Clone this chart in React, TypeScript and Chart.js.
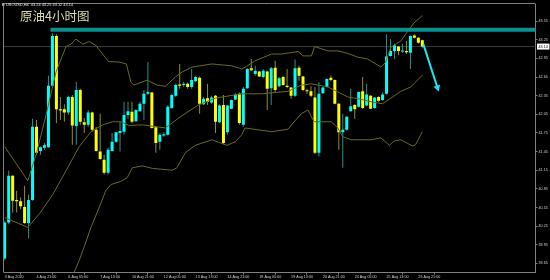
import { useEffect, useRef } from "react";
import { Chart, registerables } from "chart.js";

Chart.register(...registerables);

// ---- Data (H4 candles) ----
const opens = [
  39.73, 40.31, 41.06, 40.67, 40.65, 40.56, 40.30, 40.67, 41.85, 41.46,
  41.51, 41.52, 42.51, 43.31, 42.13, 42.13, 42.08, 42.33, 41.86, 42.44,
  41.92, 41.88, 42.08, 41.80, 41.45, 41.32, 41.11, 41.46, 41.61, 41.75,
  41.77, 42.04, 42.09, 41.94, 42.10, 42.22, 42.38, 42.40, 41.84, 41.61,
  41.71, 41.72, 42.15, 42.35, 42.53, 42.52, 42.54, 42.49, 42.58, 42.64,
  42.21, 42.31, 42.24, 42.35, 41.92, 42.20, 41.76, 42.14, 42.29, 42.38,
  41.88, 42.47, 42.79, 42.70, 42.74, 42.65, 42.74, 42.47, 42.80, 42.50,
  42.65, 42.51, 42.48, 42.35, 42.80, 42.66, 42.43, 42.42, 42.32, 41.43,
  42.39, 42.49, 42.64, 42.60, 42.22, 41.76, 41.80, 42.10, 42.20, 42.17,
  42.42, 42.19, 42.35, 42.15, 42.33, 42.28, 42.38, 42.99, 43.07, 43.14,
  43.06, 43.07, 43.04, 43.32, 43.28, 43.24,
];
const highs = [
  40.33, 41.14, 41.07, 40.82, 40.71, 40.90, 40.76, 41.98, 41.96, 41.53,
  41.59, 42.67, 43.36, 43.34, 42.33, 42.21, 42.35, 42.36, 42.57, 42.46,
  41.99, 42.12, 42.09, 41.85, 42.06, 41.40, 41.51, 41.75, 41.77, 41.93,
  42.25, 42.25, 42.25, 42.13, 42.25, 42.44, 42.89, 42.41, 41.85, 41.75,
  41.76, 42.20, 42.38, 42.54, 42.86, 42.57, 42.56, 42.78, 42.67, 42.66,
  42.33, 42.54, 42.35, 42.36, 42.21, 42.36, 42.20, 42.29, 42.39, 42.40,
  42.49, 42.79, 42.94, 42.83, 42.75, 42.78, 42.75, 42.81, 42.91, 42.65,
  42.67, 42.78, 42.49, 42.93, 42.83, 42.67, 42.46, 42.50, 42.49, 42.57,
  42.49, 42.63, 42.67, 42.61, 42.23, 42.06, 42.02, 42.46, 42.21, 42.42,
  42.65, 42.54, 42.36, 42.33, 42.34, 42.40, 43.34, 43.26, 43.19, 43.15,
  43.18, 43.23, 43.32, 43.34, 43.29, 43.25,
];
const lows = [
  39.70, 40.28, 40.47, 40.47, 40.52, 40.29, 40.05, 40.66, 41.40, 41.40,
  41.48, 41.51, 42.49, 41.91, 41.96, 41.93, 42.04, 41.56, 41.56, 41.88,
  41.75, 41.85, 41.77, 41.45, 41.32, 41.08, 41.08, 41.45, 41.59, 41.45,
  41.72, 41.98, 41.90, 41.93, 42.09, 41.96, 42.36, 41.82, 41.43, 41.48,
  41.69, 41.71, 42.14, 42.33, 42.46, 42.49, 42.46, 42.46, 42.57, 42.06,
  42.20, 42.20, 42.22, 41.75, 41.91, 41.57, 41.72, 42.13, 42.28, 41.88,
  41.85, 42.46, 42.75, 42.67, 42.65, 42.63, 42.12, 42.20, 42.41, 42.49,
  42.51, 42.47, 42.30, 42.33, 42.59, 42.42, 42.38, 42.33, 41.41, 41.37,
  42.38, 42.48, 42.58, 42.21, 41.48, 41.19, 41.79, 42.09, 41.98, 42.16,
  42.13, 42.18, 42.13, 42.14, 42.25, 42.27, 42.37, 42.98, 42.94, 43.00,
  43.04, 43.02, 42.78, 43.27, 43.19, 43.12,
];
const closes = [
  40.31, 41.06, 40.66, 40.65, 40.57, 40.30, 40.67, 41.85, 41.43, 41.52,
  41.55, 42.51, 43.31, 42.13, 42.11, 42.08, 42.33, 41.87, 42.44, 41.93,
  41.88, 42.08, 41.80, 41.46, 41.33, 41.11, 41.48, 41.61, 41.76, 41.78,
  42.04, 42.10, 41.93, 42.12, 42.22, 42.38, 42.41, 41.83, 41.59, 41.72,
  41.73, 42.17, 42.36, 42.52, 42.51, 42.54, 42.49, 42.60, 42.65, 42.22,
  42.30, 42.25, 42.32, 41.93, 42.19, 41.59, 42.19, 42.28, 42.37, 41.91,
  42.46, 42.78, 42.76, 42.75, 42.66, 42.75, 42.46, 42.79, 42.44, 42.63,
  42.52, 42.49, 42.35, 42.79, 42.67, 42.44, 42.42, 42.35, 41.43, 42.38,
  42.48, 42.62, 42.60, 42.22, 41.76, 41.80, 42.01, 42.18, 42.13, 42.41,
  42.15, 42.37, 42.14, 42.32, 42.27, 42.37, 42.98, 43.07, 43.16, 43.07,
  43.065, 43.05, 43.31, 43.28, 43.20, 43.14,
];

// Bollinger band lines: [bar index, price]
const upperBand: [number, number][] = [
  [0, 41.53], [5.8, 40.98], [7.9, 41.4], [10.4, 42.04], [12.9, 42.73], [15.4, 43.14],
  [16.7, 43.18], [17.9, 43.26], [19.6, 43.18], [21.3, 43.22], [22.9, 43.16], [24.6, 43.02],
  [26.1, 42.9], [28.8, 42.89], [30.6, 42.86], [31.7, 42.57], [32.5, 42.52], [35.8, 42.6],
  [38.3, 42.52], [40.4, 42.5], [42.9, 42.65], [44.6, 42.73], [47.1, 42.81], [52.1, 42.86],
  [57.1, 42.83], [59.6, 42.78], [60.8, 42.82], [62.9, 42.91], [67.1, 43.02], [69.6, 43.02],
  [73.75, 43.06], [75, 42.99], [77.1, 42.99], [77.9, 43.14], [81.25, 43.07], [83.75, 43.07],
  [86.25, 43.03], [88.75, 42.97], [91.25, 42.94], [93.3, 42.86], [94.6, 42.81], [95.8, 42.89],
  [97.1, 43.13], [99.6, 43.23], [100.8, 43.34], [102.9, 43.52], [105, 43.64],
];
const middleBand: [number, number][] = [
  [0, 40.39], [5.8, 40.23], [8.75, 40.45], [12.1, 40.76], [15.4, 41.14], [18.75, 41.53],
  [21.7, 41.77], [24.6, 41.88], [27.1, 41.93], [29.2, 41.93], [31.25, 41.87], [34.6, 41.88],
  [40.4, 41.83], [44.6, 42.03], [48.75, 42.2], [52.9, 42.31], [59.6, 42.38], [64.6, 42.38],
  [71.25, 42.42], [74.6, 42.52], [77.1, 42.54], [81.25, 42.49], [83.75, 42.41], [86.25, 42.33],
  [89.6, 42.29], [92.9, 42.24], [95, 42.22], [97.1, 42.31], [99.6, 42.42], [102.1, 42.49],
  [105, 42.68],
];
const lowerBand: [number, number][] = [
  [14, 39.0], [18.75, 39.7], [20, 39.92], [21.7, 40.23], [23.75, 40.55], [25.4, 40.82],
  [26.7, 40.92], [29.2, 40.97], [30.8, 41.03], [32.1, 41.19], [34.6, 41.22], [37.1, 41.18],
  [42.1, 41.15], [43.3, 41.19], [45.4, 41.43], [47.9, 41.55], [52.1, 41.64], [54.2, 41.59],
  [55.9, 41.55], [58, 41.61], [59.6, 41.72], [60.4, 41.83], [63.75, 41.8], [67.1, 41.77],
  [71.25, 41.81], [72.5, 41.91], [74.6, 42.06], [76.25, 42.12], [77.5, 41.96], [77.9, 41.93],
  [82.1, 41.93], [83.75, 41.83], [85, 41.69], [87.1, 41.64], [92.1, 41.64], [94.6, 41.67],
  [96.7, 41.55], [97.9, 41.62], [99.6, 41.64], [102.5, 41.54], [103.3, 41.56], [105, 41.77],
];

const xTickBars = [0, 8, 16, 24, 32, 40, 48, 56, 64, 72, 80, 88, 96, 104];
const xTickLabels = [
  "3 Aug 2020", "4 Aug 21:00", "6 Aug 05:00", "7 Aug 13:00", "10 Aug 21:00",
  "12 Aug 05:00", "13 Aug 13:00", "14 Aug 21:00", "18 Aug 05:00", "19 Aug 13:00",
  "20 Aug 21:00", "24 Aug 05:00", "25 Aug 13:00", "26 Aug 21:00",
];
const yTickLabels = [
  "39.65", "39.95", "40.25", "40.55", "40.85", "41.15", "41.45",
  "41.75", "42.05", "42.35", "42.65", "42.95", "43.25", "43.55",
];

const resistanceLine: [number, number][] = [[11.5, 43.41], [135, 43.41]];
const bidPrice = 43.14;
const arrowLine: [number, number][] = [[105.25, 43.18], [108.8, 42.48]];
const headerText = "USOUSD,H4  43.24 43.25 43.12 43.14";
const titleText = "原油4小时图";

const UP = "#00FFFF";
const DOWN = "#FFFF00";
const UP_WICK = "#2F8F8F";
const DOWN_WICK = "#8F8F2F";
const BAND = "#6B691E";
const AXIS = "#808080";
const LABEL = "#D0D0D0";
const FONT = "'Liberation Sans', Arial, sans-serif";

export default function App() {
  const ref = useRef<HTMLCanvasElement>(null);

  useEffect(() => {
    const canvas = ref.current;
    if (!canvas) return;
    const idx = opens.map((_, i) => i);
    const up = idx.map((i) => closes[i] >= opens[i]);
    const toPts = (arr: [number, number][]) => arr.map(([x, y]) => ({ x, y }));

    const lineBase = {
      type: "line" as const,
      pointRadius: 0,
      pointHoverRadius: 0,
      tension: 0,
      fill: false,
    };

    const overlay = {
      id: "mt4overlay",
      beforeDraw(chart: any) {
        const ctx = chart.ctx;
        ctx.save();
        ctx.fillStyle = "#000";
        ctx.fillRect(0, 0, chart.width, chart.height);
        ctx.restore();
      },
      afterDraw(chart: any) {
        const ctx = chart.ctx;
        const a = chart.chartArea;
        const yS = chart.scales.y;
        ctx.save();
        // left and top borders
        ctx.strokeStyle = AXIS;
        ctx.lineWidth = 1;
        ctx.beginPath();
        ctx.moveTo(a.left - 0.5, a.bottom);
        ctx.lineTo(a.left - 0.5, a.top - 0.5);
        ctx.lineTo(a.right, a.top - 0.5);
        ctx.stroke();
        // header
        ctx.fillStyle = "#E6E6E6";
        ctx.font = `3.9px ${FONT}`;
        ctx.textBaseline = "middle";
        ctx.textAlign = "left";
        ctx.fillText(headerText, 6, 4.5);
        ctx.fillStyle = "#9a9a9a";
        ctx.fillRect(2, 3, 2.5, 3);
        // title
        ctx.fillStyle = "#DCDCA6";
        ctx.font = `12.5px 'Noto Sans CJK SC', sans-serif`;
        ctx.textBaseline = "alphabetic";
        ctx.fillText(titleText, 20, 20.5);
        // current price box
        const py = yS.getPixelForValue(bidPrice);
        ctx.fillStyle = "#FFFFFF";
        ctx.fillRect(a.right + 1.5, py - 3, 12.5, 6);
        ctx.fillStyle = "#000";
        ctx.font = `3.7px ${FONT}`;
        ctx.textBaseline = "middle";
        ctx.fillText(bidPrice.toFixed(2), a.right + 3, py);
        ctx.restore();
      },
    };

    const chart = new Chart(canvas, {
      type: "bar",
      data: {
        datasets: [
          {
            ...lineBase,
            label: "arrow",
            data: toPts(arrowLine),
            borderColor: "#1FE3F0",
            borderWidth: 2,
            order: 0,
          } as any,
          {
            ...lineBase,
            label: "arrowHead",
            data: toPts([arrowLine[1]]),
            showLine: false,
            pointRadius: 4,
            pointHoverRadius: 4,
            pointStyle: "triangle",
            rotation: 162,
            backgroundColor: "#1FE3F0",
            borderColor: "#1FE3F0",
            borderWidth: 0,
            order: 0,
          } as any,
          {
            ...lineBase,
            label: "resistance",
            data: toPts(resistanceLine),
            borderColor: "#0E8E8E",
            borderWidth: 4,
            order: 1,
          } as any,
          {
            ...lineBase,
            label: "upper",
            data: toPts(upperBand),
            borderColor: BAND,
            borderWidth: 1,
            order: 2,
          } as any,
          {
            ...lineBase,
            label: "middle",
            data: toPts(middleBand),
            borderColor: BAND,
            borderWidth: 1,
            order: 2,
          } as any,
          {
            ...lineBase,
            label: "lower",
            data: toPts(lowerBand),
            borderColor: BAND,
            borderWidth: 1,
            order: 2,
          } as any,
          {
            type: "bar",
            label: "body",
            data: idx.map((i) => ({ x: i, y: [opens[i], closes[i]] })),
            backgroundColor: idx.map((i) => (up[i] ? UP : DOWN)),
            borderWidth: 0,
            barThickness: 3,
            grouped: false,
            minBarLength: 1,
            inflateAmount: 0,
            order: 3,
          } as any,
          {
            type: "bar",
            label: "wick",
            data: idx.map((i) => ({ x: i, y: [lows[i], highs[i]] })),
            backgroundColor: idx.map((i) => (up[i] ? UP_WICK : DOWN_WICK)),
            borderWidth: 0,
            barThickness: 1,
            grouped: false,
            inflateAmount: 0,
            order: 4,
          } as any,
          {
            ...lineBase,
            label: "bid",
            data: [
              { x: -2, y: bidPrice },
              { x: 140, y: bidPrice },
            ],
            borderColor: "#3C3C3C",
            borderWidth: 1,
            order: 5,
          } as any,
        ],
      },
      options: {
        responsive: false,
        animation: false,
        devicePixelRatio: 1,
        layout: { padding: { left: 1, top: 1, right: 0, bottom: 0 } },
        plugins: {
          legend: { display: false },
          tooltip: { enabled: false },
          title: { display: false },
        },
        scales: {
          x: {
            type: "linear",
            position: "bottom",
            min: -0.175,
            max: 133.45,
            offset: false,
            grid: {
              display: true,
              drawOnChartArea: false,
              drawTicks: true,
              tickLength: 2,
              color: AXIS,
            },
            border: { display: true, color: AXIS },
            ticks: {
              autoSkip: false,
              maxRotation: 0,
              minRotation: 0,
              align: "start",
              padding: 0,
              color: LABEL,
              font: { size: 3.7, family: FONT },
              callback: (_v: any, i: number) => xTickLabels[i],
            },
            afterBuildTicks: (s: any) => {
              s.ticks = xTickBars.map((v) => ({ value: v }));
            },
            afterFit: (s: any) => {
              s.height = 7.5;
            },
          },
          y: {
            type: "linear",
            position: "right",
            min: 39.504,
            max: 43.825,
            grid: {
              display: true,
              drawOnChartArea: false,
              drawTicks: true,
              tickLength: 2,
              color: AXIS,
            },
            border: { display: true, color: AXIS },
            ticks: {
              padding: 1,
              color: LABEL,
              font: { size: 3.7, family: FONT },
              callback: (_v: any, i: number) => yTickLabels[i],
            },
            afterBuildTicks: (s: any) => {
              s.ticks = yTickLabels.map((t) => ({ value: parseFloat(t) }));
            },
            afterFit: (s: any) => {
              s.width = 14.5;
            },
          },
        },
      } as any,
      plugins: [overlay],
    });

    return () => chart.destroy();
  }, []);

  return (
    <div
      style={{
        position: "fixed",
        left: 0,
        top: 0,
        width: 550,
        height: 280,
        background: "#000",
      }}
    >
      <canvas
        ref={ref}
        width={550}
        height={280}
        style={{ display: "block", width: 550, height: 280 }}
      />
    </div>
  );
}
